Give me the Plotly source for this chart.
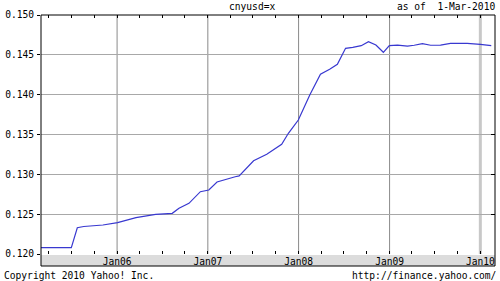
import plotly.graph_objects as go

# ---- data ----
dates = [
    "2005-03-01", "2005-07-01", "2005-07-25", "2005-08-20", "2005-11-05",
    "2006-01-03", "2006-03-18", "2006-06-05", "2006-08-11", "2006-09-07",
    "2006-10-17", "2006-12-02", "2007-01-05", "2007-02-07", "2007-04-21",
    "2007-05-07", "2007-07-04", "2007-08-26", "2007-10-25", "2007-11-21",
    "2007-12-31", "2008-02-15", "2008-03-29", "2008-05-05", "2008-06-05",
    "2008-07-08", "2008-08-06", "2008-09-09", "2008-10-08", "2008-11-07",
    "2008-12-07", "2008-12-31", "2009-02-02", "2009-03-14", "2009-04-10",
    "2009-05-13", "2009-06-15", "2009-07-25", "2009-09-03", "2009-11-09",
    "2010-01-01", "2010-02-14",
]
rates = [
    0.12079, 0.12079, 0.12330, 0.12345, 0.12364,
    0.12393, 0.12456, 0.12498, 0.12511, 0.12574,
    0.12636, 0.12782, 0.12803, 0.12904, 0.12970,
    0.12980, 0.13170, 0.13251, 0.13377, 0.13515,
    0.13682, 0.13996, 0.14256, 0.14318, 0.14381,
    0.14582, 0.14594, 0.14615, 0.14665, 0.14623,
    0.14532, 0.14615, 0.14623, 0.14610, 0.14620,
    0.14640, 0.14620, 0.14623, 0.14644, 0.14644,
    0.14632, 0.14615,
]
x_tick_vals = ["2006-01-01", "2007-01-01", "2008-01-01", "2009-01-01", "2010-01-01"]
x_tick_text = ["Jan06", "Jan07", "Jan08", "Jan09", "Jan10"]
y_tick_vals = [0.120, 0.125, 0.130, 0.135, 0.140, 0.145, 0.150]
y_tick_text = ["0.120", "0.125", "0.130", "0.135", "0.140", "0.145", "0.150"]
x_range = ["2005-03-01", "2010-03-01"]
y_range = [0.120, 0.150]

title_text = "cnyusd=x"
asof_text = "as of \u00a01-Mar-2010"
copyright_text = "Copyright 2010 Yahoo! Inc."
url_text = "http://finance.yahoo.com/"

FONT = "DejaVu Sans Mono"
FS = 9.6

fig = go.Figure()
fig.add_trace(go.Scatter(
    x=dates, y=rates, mode="lines",
    line=dict(color="#3838d0", width=1.2),
    hoverinfo="skip", showlegend=False,
))

# invisible trace to activate overlay axes (top / right tick marks)
fig.add_trace(go.Scatter(x=x_range, y=y_range, mode="lines", xaxis="x2", yaxis="y2",
                         line=dict(width=0), opacity=0, showlegend=False, hoverinfo="skip"))

W, H = 500, 281
L, R, T, B = 38, 5, 15, 27
plot_h = H - T - B

fig.update_layout(
    width=W, height=H,
    margin=dict(l=L, r=R, t=T, b=B, pad=0),
    paper_bgcolor="white", plot_bgcolor="white",
    font=dict(family=FONT, size=FS, color="black"),
    showlegend=False,
    xaxis=dict(
        type="date", range=x_range,
        tickmode="array", tickvals=x_tick_vals, ticktext=x_tick_text,
        showgrid=False,
        ticks="", showline=False, zeroline=False,
        minor=dict(dtick="M3", tick0="2005-01-01", ticks="inside", ticklen=3,
                   tickcolor="black", showgrid=False),
        tickfont=dict(family=FONT, size=FS, color="black"),
        ticklabelstandoff=0,
    ),
    xaxis2=dict(
        type="date", range=x_range, overlaying="x", side="top",
        showgrid=False, showticklabels=False, zeroline=False,
        tickmode="linear", dtick="M3", tick0="2005-01-01",
        ticks="inside", ticklen=3, tickcolor="black",
    ),
    yaxis=dict(
        range=y_range, tickmode="array", tickvals=y_tick_vals, ticktext=y_tick_text,
        showgrid=True, gridcolor="#a8a8a8", gridwidth=1,
        ticks="outside", ticklen=3, tickcolor="black",
        showline=False, zeroline=False,
        tickfont=dict(family=FONT, size=FS, color="black"),
        ticklabelstandoff=1,
    ),
    yaxis2=dict(
        range=y_range, overlaying="y", side="right", anchor="x",
        tickmode="array", tickvals=y_tick_vals,
        showgrid=False, showticklabels=False, zeroline=False,
        ticks="inside", ticklen=4, tickcolor="black",
    ),
)

band_top = -1 / plot_h
band_bot = -12 / plot_h

# x-axis label band and frame
fig.add_shape(type="rect", xref="paper", yref="paper", x0=0, x1=1, y0=band_bot, y1=band_top,
              fillcolor="#dcdcdc", line=dict(width=0), layer="below")
fig.add_shape(type="rect", xref="paper", yref="paper", x0=0, x1=1, y0=band_bot, y1=1,
              fillcolor="rgba(0,0,0,0)", line=dict(color="black", width=1), layer="above")

# vertical yearly gridlines; the latest year is marked with a thick light line
for i, tv in enumerate(x_tick_vals):
    last = i == len(x_tick_vals) - 1
    fig.add_shape(type="line", xref="x", yref="paper", x0=tv, x1=tv, y0=0, y1=1,
                  line=dict(color="#c8c8c8" if last else "#8a8a8a", width=3 if last else 1),
                  layer="below")

def px_x(p):
    return (p - L) / (W - L - R)

def px_y(p):
    return (H - B - p) / plot_h

fig.add_annotation(text=title_text, x=px_x(250), y=px_y(7), xref="paper", yref="paper",
                   xanchor="center", yanchor="middle", showarrow=False,
                   font=dict(family=FONT, size=FS, color="black"))
fig.add_annotation(text=asof_text, x=px_x(497), y=px_y(7), xref="paper", yref="paper",
                   xanchor="right", yanchor="middle", showarrow=False,
                   font=dict(family=FONT, size=FS, color="black"))
fig.add_annotation(text=copyright_text, x=px_x(-1), y=px_y(275), xref="paper", yref="paper",
                   xanchor="left", yanchor="middle", showarrow=False,
                   font=dict(family=FONT, size=FS, color="black"))
fig.add_annotation(text=url_text, x=px_x(499), y=px_y(275), xref="paper", yref="paper",
                   xanchor="right", yanchor="middle", showarrow=False,
                   font=dict(family=FONT, size=FS, color="black"))

fig.write_html("out.html")
